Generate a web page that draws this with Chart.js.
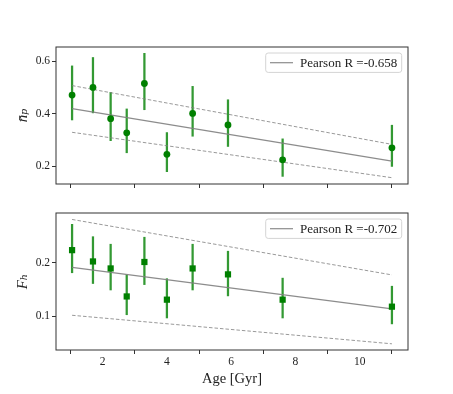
<!DOCTYPE html>
<html>
<head>
<meta charset="utf-8">
<script src="https://cdn.jsdelivr.net/npm/chart.js@4.4.0/dist/chart.umd.min.js"></script>
<style>
body { margin: 0; background: #fff; }
#wrap { position: relative; width: 453px; height: 394px; }
canvas { position: absolute; left: 0; }
</style>
</head>
<body>
<div id="wrap">
  <canvas id="topChart" width="453" height="200" style="top:0"></canvas>
  <canvas id="bottomChart" width="453" height="194" style="top:200px"></canvas>
</div>
<script>
// ages shared by both panels
const ages = [1.05, 1.7, 2.25, 2.75, 3.3, 4.0, 4.8, 5.9, 7.6, 11.0];

// top panel: n_p
const npValues = [0.471, 0.500, 0.381, 0.327, 0.515, 0.245, 0.401, 0.357, 0.224, 0.270];
const npLow    = [0.376, 0.403, 0.297, 0.251, 0.415, 0.179, 0.314, 0.275, 0.161, 0.199];
const npHigh   = [0.582, 0.614, 0.481, 0.418, 0.630, 0.328, 0.504, 0.453, 0.304, 0.356];
const npFit    = [0.419, 0.219];
const npUpper  = [0.507, 0.283];
const npLower  = [0.329, 0.156];

// bottom panel: F_h
const fhValues = [0.223, 0.202, 0.189, 0.137, 0.201, 0.131, 0.189, 0.178, 0.131, 0.118];
const fhLow    = [0.181, 0.161, 0.149, 0.103, 0.159, 0.097, 0.149, 0.138, 0.097, 0.086];
const fhHigh   = [0.271, 0.248, 0.234, 0.177, 0.247, 0.170, 0.234, 0.221, 0.171, 0.156];
const fhFit    = [0.191, 0.114];
const fhUpper  = [0.280, 0.177];
const fhLower  = [0.102, 0.049];

const xTicks = [2, 4, 6, 8, 10];
const npTicks = [0.2, 0.4, 0.6];
const fhTicks = [0.1, 0.2];

const serif = 'Liberation Serif, DejaVu Serif, serif';
const fitX = [ages[0], ages[ages.length - 1]];

// box around the plot, plus a matplotlib style legend in the upper right
const framePlugin = {
    id: 'frame',
    afterDraw(chart) {
        const a = chart.chartArea;
        const ctx = chart.ctx;
        ctx.save();
        ctx.strokeStyle = '#333';
        ctx.lineWidth = 1;
        ctx.strokeRect(a.left, a.top, a.right - a.left, a.bottom - a.top);

        const fit = chart.data.datasets[1];
        const w = 136, h = 19.4;
        const lx = a.right - 6.3 - w, ly = a.top + 6 ;
        ctx.beginPath();
        ctx.roundRect(lx, ly, w, h, 2.5);
        ctx.fillStyle = 'rgba(255,255,255,0.8)';
        ctx.fill();
        ctx.strokeStyle = '#d4d4d4';
        ctx.stroke();
        const cy = ly + h / 2;
        ctx.beginPath();
        ctx.moveTo(lx + 4.3, cy);
        ctx.lineTo(lx + 27.3, cy);
        ctx.strokeStyle = fit.borderColor;
        ctx.lineWidth = fit.borderWidth;
        ctx.stroke();
        ctx.fillStyle = '#222';
        ctx.font = '13px ' + serif;
        ctx.textBaseline = 'middle';
        ctx.fillText(fit.label, lx + 34.3, cy + 0.5);
        ctx.restore();
    }
};

function makeConfig(opt) {
    const line = (vals) => fitX.map((x, i) => ({ x: x, y: vals[i] }));
    return {
        type: 'line',
        data: {
            datasets: [
                {
                    type: 'bar',
                    label: 'err',
                    data: ages.map((a, i) => ({ x: a, y: [opt.low[i], opt.high[i]] })),
                    backgroundColor: 'rgba(0,128,0,0.8)',
                    barThickness: 1.6,
                    order: 4
                },
                {
                    label: opt.legend,
                    data: line(opt.fit),
                    borderColor: 'rgba(128,128,128,0.9)',
                    borderWidth: 1.2,
                    pointRadius: 0,
                    order: 3
                },
                {
                    label: 'upper',
                    data: line(opt.upper),
                    borderColor: 'rgba(128,128,128,0.8)',
                    borderWidth: 1,
                    borderDash: [3.5, 2],
                    pointRadius: 0,
                    order: 3
                },
                {
                    label: 'lower',
                    data: line(opt.lower),
                    borderColor: 'rgba(128,128,128,0.8)',
                    borderWidth: 1,
                    borderDash: [3.5, 2],
                    pointRadius: 0,
                    order: 3
                },
                {
                    label: 'data',
                    data: ages.map((a, i) => ({ x: a, y: opt.values[i] })),
                    showLine: false,
                    pointStyle: opt.marker,
                    pointRadius: opt.marker === 'rect' ? 4.4 : 3.4,
                    backgroundColor: '#008000',
                    borderColor: '#008000',
                    borderWidth: 0,
                    order: 1
                }
            ]
        },
        options: {
            responsive: false,
            animation: false,
            layout: { padding: { top: opt.padTop, right: 45, left: 0, bottom: 0 } },
            plugins: {
                tooltip: { enabled: false },
                legend: { display: false }
            },
            scales: {
                x: {
                    type: 'linear',
                    min: 0.55,
                    max: 11.5,
                    offset: false,
                    border: { display: false },
                    grid: { drawOnChartArea: false, drawTicks: true, tickLength: 4, color: '#333' },
                    afterBuildTicks: (s) => { s.ticks = xTicks.map(v => ({ value: v })); },
                    afterFit: (s) => { s.height = opt.xHeight; },
                    ticks: {
                        display: true,
                        color: opt.showX ? '#222' : 'rgba(0,0,0,0)',
                        padding: 1,
                        maxRotation: 0,
                        font: { family: serif, size: 11.5 },
                        callback: (v) => String(v)
                    },
                    title: {
                        display: opt.showX,
                        text: 'Age [Gyr]',
                        color: '#222',
                        font: { family: serif, size: 14.5 },
                        padding: { top: 0, bottom: 6 }
                    }
                },
                y: {
                    min: opt.ymin,
                    max: opt.ymax,
                    border: { display: false },
                    grid: { drawOnChartArea: false, drawTicks: true, tickLength: 4, color: '#333' },
                    afterBuildTicks: (s) => { s.ticks = opt.yTicks.map(v => ({ value: v })); },
                    afterFit: (s) => { s.width = 56; },
                    ticks: {
                        color: '#222',
                        padding: 2,
                        font: { family: serif, size: 11.5 },
                        callback: (v) => v.toFixed(1)
                    },
                    title: {
                        display: true,
                        text: opt.yTitle,
                        color: '#222',
                        font: { family: serif, size: 15, style: 'italic' },
                        padding: { top: 14, bottom: 0 }
                    }
                }
            }
        },
        plugins: [framePlugin]
    };
}

new Chart(document.getElementById('topChart'), makeConfig({
    values: npValues, low: npLow, high: npHigh,
    fit: npFit, upper: npUpper, lower: npLower,
    legend: 'Pearson R =-0.658',
    marker: 'circle',
    yTicks: npTicks, ymin: 0.132, ymax: 0.654,
    yTitle: 'n\u0304\u209a',
    padTop: 47, xHeight: 16, showX: false
}));

new Chart(document.getElementById('bottomChart'), makeConfig({
    values: fhValues, low: fhLow, high: fhHigh,
    fit: fhFit, upper: fhUpper, lower: fhLower,
    legend: 'Pearson R =-0.702',
    marker: 'rect',
    yTicks: fhTicks, ymin: 0.0375, ymax: 0.292,
    yTitle: 'F\u2095',
    padTop: 13, xHeight: 44, showX: true
}));
</script>
</body>
</html>
